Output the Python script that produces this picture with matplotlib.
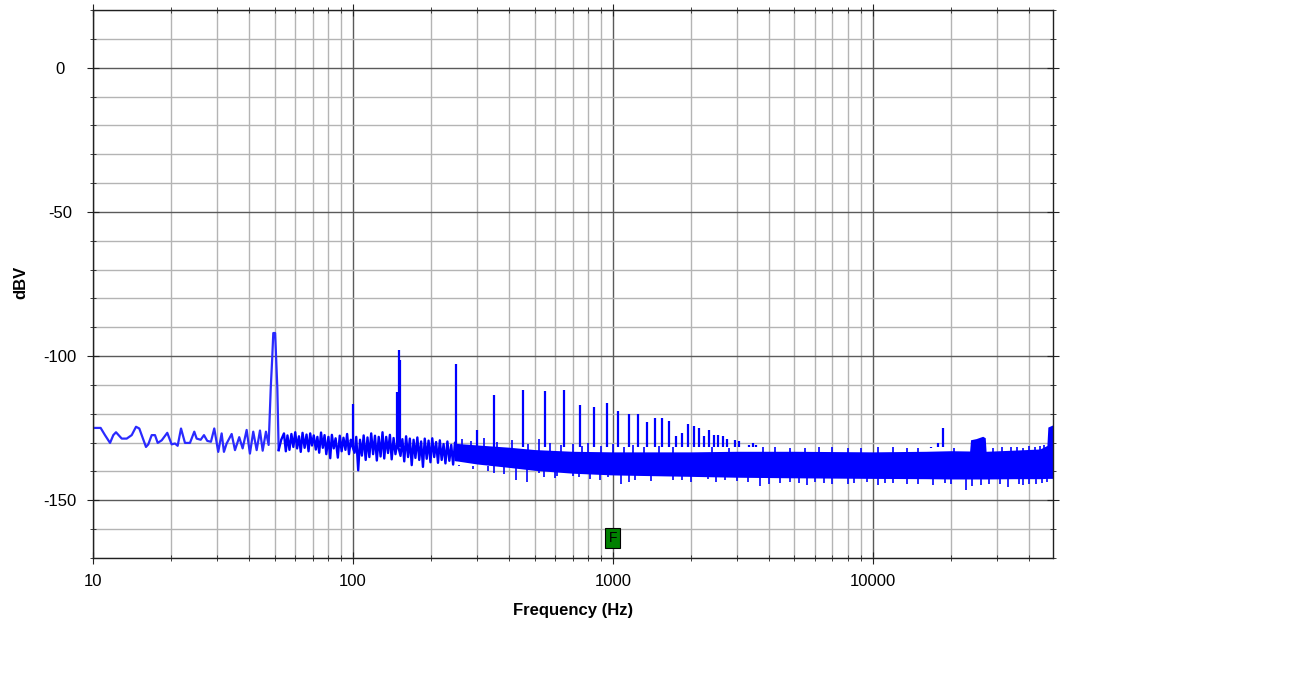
import matplotlib
matplotlib.use("Agg")
import matplotlib.pyplot as plt
from matplotlib.ticker import FixedLocator, MultipleLocator, LogLocator, NullFormatter

plt.rcParams["font.family"] = ["Liberation Sans", "DejaVu Sans"]
plt.rcParams["axes.unicode_minus"] = False

# 10 Hz .. just past the 50 Hz mains peak
lf_freq = [10.0, 10.7, 11.12, 11.63, 11.97, 12.26, 12.9, 13.48, 14.09, 14.64,
           15.07, 15.99, 16.32, 16.82, 17.32, 17.74, 18.38, 19.31, 20.07, 20.67,
           21.17, 21.81, 22.59, 23.61, 24.53, 25.05, 25.96, 26.73, 27.52, 28.43,
           29.28, 30.33, 31.26, 31.9, 32.67, 34.16, 35.18, 36.53, 37.65, 39.01,
           40.16, 41.36, 42.63, 43.9, 44.96, 46.29, 47.4, 48.3, 48.9, 49.4,
           50.2, 50.5, 51.2, 51.8]
lf_dbv = [-124.9, -124.9, -127.4, -130.1, -127.4, -126.4, -128.6, -128.6, -127.4, -124.5,
          -125.1, -131.5, -130.6, -127.4, -127.4, -130.1, -129.2, -126.6, -130.6, -130.3,
          -131.1, -125.1, -130.1, -130.1, -126.2, -128.6, -129.0, -127.4, -129.4, -129.7,
          -125.1, -133.2, -126.8, -133.2, -130.3, -127.0, -132.6, -128.1, -132.0, -125.6,
          -133.8, -126.2, -132.6, -125.8, -132.8, -126.2, -130.8, -111.0, -101.2, -92.0,
          -92.0, -97.6, -111.2, -132.6]

# 52..250 Hz: single bins still visible
mid_freq = [51.8, 53.0, 54.3, 55.2, 56.0, 57.0, 58.0, 59.0, 60.0, 61.0,
            62.0, 63.0, 64.0, 65.2, 66.3, 67.5, 68.5, 69.6, 70.7, 72.0,
            73.0, 74.2, 75.4, 76.6, 77.8, 79.0, 80.5, 81.8, 83.0, 84.4,
            85.8, 87.5, 89.0, 90.5, 92.0, 93.6, 95.0, 96.6, 98.2, 99.3,
            101.5, 103.0, 104.8, 106.5, 108.3, 110.0, 112.0, 113.8, 115.7, 117.6,
            119.6, 121.6, 123.6, 125.7, 127.8, 130.0, 132.0, 134.3, 136.5, 138.8,
            141.0, 143.4, 145.8, 148.2, 152.5, 155.0, 157.6, 160.2, 163.0, 165.6,
            168.4, 171.2, 174.0, 177.0, 180.0, 183.0, 186.0, 189.0, 192.3, 195.5,
            198.8, 202.0, 205.5, 209.0, 212.5, 216.0, 219.6, 223.3, 227.0, 231.0,
            235.0, 239.0, 243.0, 247.0, 251.0]
mid_dbv = [-132.6, -129.0, -126.8, -133.0, -127.5, -132.5, -127.0, -131.5, -126.4, -132.0,
           -127.8, -133.2, -126.6, -131.8, -127.2, -133.0, -126.8, -131.0, -127.5, -132.4,
           -128.0, -133.5, -126.5, -131.8, -127.4, -134.0, -128.0, -135.4, -127.3, -132.0,
           -128.5, -135.2, -127.6, -133.0, -128.3, -132.5, -127.0, -134.0, -129.0, -131.0,
           -133.5, -128.0, -139.6, -129.0, -134.5, -127.5, -136.0, -128.2, -135.0, -126.8,
           -134.0, -127.6, -136.2, -128.0, -134.8, -126.4, -135.5, -128.0, -133.6, -127.3,
           -135.8, -128.4, -134.0, -130.0, -134.6, -128.8, -136.5, -127.8, -135.0, -128.6,
           -137.8, -129.0, -135.3, -128.2, -136.0, -129.6, -138.4, -128.6, -135.6, -129.3,
           -136.8, -128.5, -135.0, -129.8, -137.0, -129.2, -136.0, -130.5, -137.2, -129.6,
           -136.3, -130.8, -137.6, -130.0, -136.0]

# above ~250 Hz the bins merge into one solid band: top / bottom edge
band_freq = [245, 300, 400, 500, 700, 1000, 2000, 3000, 5000, 10000,
             16000, 20000, 23600, 23800, 25000, 26500, 27100, 27300, 35000, 44000,
             46800, 47200, 49400]
band_top = [-130.2, -130.8, -131.6, -132.4, -133.0, -133.2, -133.2, -133.0, -133.0, -133.2,
            -133.0, -132.8, -132.9, -129.0, -128.6, -127.8, -128.3, -133.0, -132.6, -132.2,
            -131.0, -124.6, -123.8]
band_bot = [-136.2, -137.4, -138.6, -139.6, -140.6, -141.2, -141.7, -142.0, -142.2, -142.4,
            -142.5, -142.6, -142.6, -142.6, -142.6, -142.6, -142.6, -142.6, -142.5, -142.5,
            -142.4, -142.4, -142.4]

# mains harmonics and other tones above the floor
tone_freq = [100, 148.0, 150, 151.5, 250, 300, 350, 450, 550, 650,
             750, 850, 950, 1050, 1150, 1250, 1350, 1450, 1550, 1650,
             1750, 1850, 1950, 2050, 2150, 2250, 2350, 2450, 2550, 2650,
             2750, 2950, 3050, 3350, 3450, 3550, 16800, 17850, 18700]
tone_dbv = [-116.7, -112.4, -97.9, -101.4, -102.9, -125.5, -113.5, -111.6, -112.2, -111.8,
            -116.8, -117.6, -116.3, -119.1, -120.1, -120.1, -122.8, -121.6, -121.6, -122.6,
            -127.8, -126.6, -123.6, -124.3, -125.1, -127.8, -125.7, -127.4, -127.4, -127.8,
            -128.9, -129.2, -129.5, -130.9, -130.1, -130.9, -131.7, -130.3, -125.1]

# single noise bins poking a little above the band
bump_freq = [262, 285, 320, 360, 410, 470, 520, 575, 630, 700,
             760, 800, 900, 1000, 1100, 1200, 1320, 1500, 1700, 2400,
             2800, 3800, 4200, 4800, 5500, 6200, 7000, 8000, 9000, 10500,
             12000, 13500, 15000, 20500, 29000, 31500, 34000, 36000, 38000, 40000,
             42000, 44000, 45500]
bump_dbv = [-128.8, -129.5, -128.5, -129.8, -129.2, -130.5, -128.8, -130.0, -130.8, -130.5,
            -131.2, -130.2, -131.0, -130.5, -131.4, -130.8, -131.5, -131.2, -131.6, -131.4,
            -131.8, -131.6, -131.5, -131.9, -131.8, -131.4, -131.5, -131.9, -131.8, -131.6,
            -131.6, -131.9, -131.7, -131.8, -131.8, -131.5, -131.6, -131.5, -131.9, -131.2,
            -131.6, -131.0, -130.8]

# deepest single bins under the band
dip_freq = [256, 290, 330, 350, 380, 425, 469, 518, 545, 600,
            608, 700, 741, 820, 890, 958, 1080, 1150, 1222, 1400,
            1586, 1700, 1850, 2000, 2318, 2500, 2700, 3000, 3300, 3690,
            4000, 4400, 4800, 5200, 5600, 6000, 6500, 7000, 8000, 8500,
            9500, 10500, 11200, 12000, 13500, 15000, 17000, 19000, 20000, 22900,
            24200, 26000, 28000, 31000, 33200, 36500, 38000, 40000, 42500, 45000,
            47000]
dip_dbv = [-137.8, -139.0, -140.0, -140.5, -141.0, -143.0, -143.6, -140.6, -142.0, -142.4,
           -141.5, -141.5, -141.9, -142.5, -143.0, -142.0, -144.2, -143.5, -143.0, -143.2,
           -141.3, -142.8, -143.0, -143.5, -142.6, -143.8, -143.0, -143.4, -143.6, -145.0,
           -144.4, -144.0, -143.8, -144.0, -144.6, -143.6, -144.0, -144.2, -144.5, -143.9,
           -143.8, -144.6, -144.0, -144.0, -144.3, -144.5, -144.8, -144.0, -144.2, -146.5,
           -145.0, -144.6, -144.4, -144.4, -145.3, -144.4, -144.7, -144.5, -144.2, -144.0,
           -143.8]

marker_freq = 1000
marker_dbv = -163.2

x_major = [10, 100, 1000, 10000]
x_labels = ["10", "100", "1000", "10000"]
y_major = [-150, -100, -50, 0]
y_labels = ["-150", "-100", "-50", "0"]

BLUE = "#0000ff"

fig = plt.figure(figsize=(12.89, 6.98), dpi=100)
ax = fig.add_axes([93 / 1289, 1 - 558 / 698, 960 / 1289, 548 / 698])

ax.plot(lf_freq, lf_dbv, color="#2a2aff", lw=1.6)
ax.plot(mid_freq, mid_dbv, color=BLUE, lw=1.7)
ax.fill_between(band_freq, band_bot, band_top, color=BLUE, lw=0)
ax.vlines(tone_freq, -131.5, tone_dbv, color=BLUE, lw=1.6)
ax.vlines(bump_freq, -133.5, bump_dbv, color=BLUE, lw=1.2)
ax.vlines(dip_freq, dip_dbv, -138.0, color=BLUE, lw=1.2)

ax.text(marker_freq, marker_dbv, "F", fontsize=10, ha="center", va="center",
        bbox=dict(boxstyle="square,pad=0.22", fc="#008000", ec="black", lw=0.8))

ax.set_xscale("log")
ax.set_xlim(10, 49400)
ax.set_ylim(-170, 20)
ax.set_xticks(x_major, x_labels)
ax.xaxis.set_minor_locator(LogLocator(base=10, subs=range(2, 10), numticks=20))
ax.xaxis.set_minor_formatter(NullFormatter())
ax.yaxis.set_major_locator(FixedLocator(y_major))
ax.set_yticks(y_major, y_labels)
ax.yaxis.set_minor_locator(MultipleLocator(10))

ax.set_axisbelow(True)
ax.grid(which="major", color="#5a5a5a", lw=1)
ax.grid(which="minor", color="#b4b4b4", lw=1)
for s in ax.spines.values():
    s.set_color("#202020")
    s.set_linewidth(1)

ax.tick_params(which="both", top=True, right=True, direction="inout",
               color="#202020", labelsize=12)
ax.tick_params(which="major", length=8)
ax.tick_params(which="minor", length=4)
ax.tick_params(axis="y", which="major", pad=19.8)
ax.tick_params(axis="x", which="major", pad=7.8)
for lab in ax.get_yticklabels():
    lab.set_ha("center")

ax.set_xlabel("Frequency (Hz)", fontsize=12, fontweight="bold")
ax.xaxis.set_label_coords(0.5, -0.095)
ax.xaxis.label.set_va("center")
ax.set_ylabel("dBV", fontsize=12, fontweight="bold")
ax.yaxis.set_label_coords(-0.0755, 0.503)
ax.yaxis.label.set_va("center")

fig.savefig("out.png", dpi=100, facecolor="white")
